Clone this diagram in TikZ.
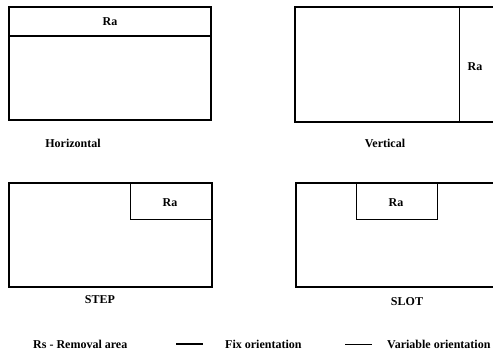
\documentclass[tikz,border=0pt]{standalone}
\usepackage{fontspec}
\setmainfont{Liberation Serif}

\begin{document}
\begin{tikzpicture}[x=1pt,y=-1pt,
    fix/.style={line width=1.3pt},
    var/.style={line width=0.6pt},
    lbl/.style={font=\bfseries\fontsize{12}{14}\selectfont,inner sep=0pt}]
\useasboundingbox (0,0) rectangle (493,351);
% Horizontal
\draw[fix] (9,7) rectangle (211,120);
\draw[fix] (9,36) -- (211,36);
\node[lbl] (ra1) at (110,22) {Ra};
\node[lbl] (horiz) at (73,143) {Horizontal};
% Vertical
\draw[fix] (493,7) -- (295,7) -- (295,122) -- (493,122);
\draw[var] (459,7) -- (459,122);
\node[lbl] (ra2) at (475,67) {Ra};
\node[lbl] (vert) at (385,143) {Vertical};
% STEP
\draw[fix] (9,183) rectangle (212,287);
\draw[var] (130,183) -- (130,219) -- (212,219);
\node[lbl] (ra3) at (170,203) {Ra};
\node[lbl] (step3) at (100,300) {STEP};
% SLOT
\draw[fix] (493,183) -- (296,183) -- (296,287) -- (493,287);
\draw[var] (356,183) rectangle (437,219);
\node[lbl] (ra4) at (396,203) {Ra};
\node[lbl] (slot4) at (407,302) {SLOT};
% legend
\node[lbl,anchor=west] (rs) at (33,344) {Rs - Removal area};
\coordinate (f1) at (176,344);
\coordinate (f2) at (203,344);
\draw[fix] (f1) -- (f2);
\node[lbl,anchor=west] (fixo) at (225,344) {Fix orientation};
\coordinate (v1) at (345,344);
\coordinate (v2) at (372,344);
\draw[var] (v1) -- (v2);
\node[lbl,anchor=west] (varo) at (387,344) {Variable orientation};
\end{tikzpicture}
\end{document}
